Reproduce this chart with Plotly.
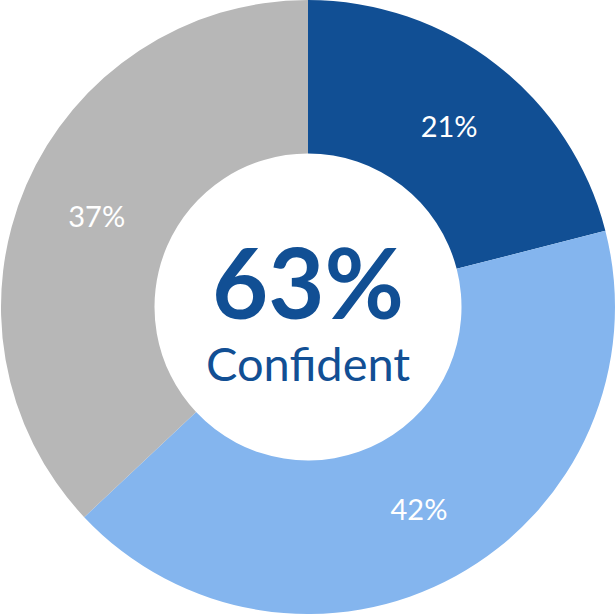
import plotly.graph_objects as go

labels = ["Very confident", "Somewhat confident", "Not confident"]
values = [21, 42, 37]
colors = ["#114f94", "#84b5ee", "#b7b7b7"]
center_value = "63%"
center_label = "Confident"

fig = go.Figure(
    data=[
        go.Pie(
            labels=labels,
            values=values,
            hole=0.5,
            sort=False,
            direction="clockwise",
            rotation=0,
            marker=dict(colors=colors, line=dict(width=0)),
            texttemplate="%{value}%",
            textposition="inside",
            insidetextorientation="horizontal",
            textfont=dict(family="Lato", size=29, color="#ffffff"),
            domain=dict(x=[0, 1], y=[0, 1]),
            showlegend=False,
            hoverinfo="skip",
        )
    ]
)
fig.update_layout(
    width=616,
    height=614,
    margin=dict(l=0, r=0, t=0, b=0),
    paper_bgcolor="#ffffff",
    plot_bgcolor="#ffffff",
    annotations=[
        dict(
            text=f"<b>{center_value}</b>",
            x=0.5,
            y=0.542,
            xref="paper",
            yref="paper",
            height=84,
            valign="middle",
            font=dict(family="Lato", size=97, color="#114f94"),
            showarrow=False,
        ),
        dict(
            text=center_label,
            x=0.5,
            y=0.408,
            xref="paper",
            yref="paper",
            height=44,
            valign="middle",
            font=dict(family="Lato", size=47, color="#114f94"),
            showarrow=False,
        ),
    ],
)
# drop the default page margin so the chart sits at the window's top-left
fig.write_html(
    "out.html",
    config={"displayModeBar": False},
    post_script="document.body.style.margin = '0';",
)
